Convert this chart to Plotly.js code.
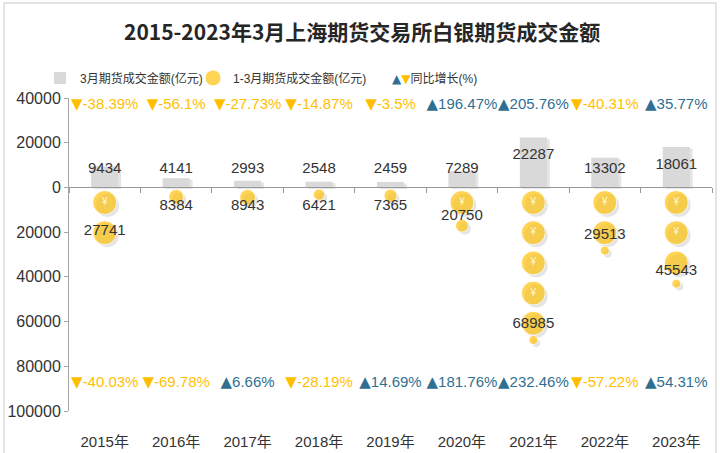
<!DOCTYPE html>
<html>
<head>
<meta charset="utf-8">
<script src="https://cdn.plot.ly/plotly-3.0.1.min.js"></script>
<style>html,body{margin:0;padding:0;background:#fff;}#chart{width:720px;height:453px;}</style>
</head>
<body>
<div id="chart"></div>
<script>
const years = ['2015年','2016年','2017年','2018年','2019年','2020年','2021年','2022年','2023年'];
const monthly = [9434, 4141, 2993, 2548, 2459, 7289, 22287, 13302, 18061];
const cumulative = [27741, 8384, 8943, 6421, 7365, 20750, 68985, 29513, 45543];
const monthlyYoY = [-38.39, -56.1, -27.73, -14.87, -3.5, 196.47, 205.76, -40.31, 35.77];
const cumulativeYoY = [-40.03, -69.78, 6.66, -28.19, 14.69, 181.76, 232.46, -57.22, 54.31];
const yTickVals = [40000, 20000, 0, -20000, -40000, -60000, -80000, -100000];
const yTickText = ['40000', '20000', '0', '20000', '40000', '60000', '80000', '100000'];

const UP = '#2f6f91', DOWN = '#ffbf00', YEL = '#ffc20e', TXT = '#333333';
const FONT = 'Liberation Sans, Arial, Noto Sans CJK SC, sans-serif';
const TRI = 'DejaVu Sans';
const xs = years.map((_, i) => i);
const STEP = 13500, TOP_ROW = 36600, BOTTOM_ROW = -87400;

const lbl = v => Math.max(8300, v - 8000);

// pictorial icons for cumulative values
const ix = [], iy = [], isz = [], itx = [];
cumulative.forEach((v, i) => {
  const n = Math.floor(v / STEP);
  const labelY = -lbl(v);
  for (let k = 0; k < n; k++) {
    const y = -(k + 0.5) * STEP;
    ix.push(i); iy.push(y); isz.push(24);
    itx.push(Math.abs(y - labelY) < 6000 ? '' : '¥');
  }
  const r = v - n * STEP;
  if (r > 0.08 * STEP) { ix.push(i); iy.push(-(n * STEP + r / 2)); isz.push(Math.max(9, 24 * r / STEP)); itx.push(''); }
});

const tri = (ch) => '<span style="font-family:' + TRI + '">' + ch + '</span>';
const fmt = v => tri(v >= 0 ? '▲' : '▼') + v + '%';

const traces = [
  { type: 'bar', x: xs.map(x => x + 0.04), y: monthly, base: -700, width: 0.38,
    marker: { color: 'rgba(0,0,0,0.10)' }, hoverinfo: 'skip', showlegend: false },
  { type: 'bar', x: xs, y: monthly, width: 0.38, name: '3月期货成交金额(亿元)',
    marker: { color: '#d9d9d9' }, legend: 'legend' },
  { type: 'scatter', mode: 'markers', x: ix.map(x => x + 0.04), y: iy.map(y => y - 1300),
    marker: { color: 'rgba(0,0,0,0.15)', size: isz, symbol: 'circle' }, hoverinfo: 'skip', showlegend: false },
  { type: 'scatter', mode: 'markers+text', x: ix, y: iy, text: itx, textposition: 'middle center',
    textfont: { color: '#fff7d0', size: 10, family: FONT },
    marker: { color: YEL, size: isz, symbol: 'circle' }, name: '1-3月期货成交金额(亿元)', legend: 'legend2' },
  { type: 'scatter', mode: 'text', x: xs, y: monthly.map(lbl), text: monthly.map(String),
    textfont: { color: TXT, size: 15, family: FONT }, hoverinfo: 'skip', showlegend: false },
  { type: 'scatter', mode: 'text', x: xs, y: cumulative.map(v => -lbl(v)), text: cumulative.map(String),
    textfont: { color: TXT, size: 15, family: FONT }, hoverinfo: 'skip', showlegend: false },
  { type: 'scatter', mode: 'text', x: xs, y: xs.map(() => TOP_ROW), text: monthlyYoY.map(fmt),
    textfont: { color: monthlyYoY.map(v => v >= 0 ? UP : DOWN), size: 15, family: FONT },
    hoverinfo: 'skip', showlegend: false },
  { type: 'scatter', mode: 'text', x: xs, y: xs.map(() => BOTTOM_ROW), text: cumulativeYoY.map(fmt),
    textfont: { color: cumulativeYoY.map(v => v >= 0 ? UP : DOWN), size: 15, family: FONT },
    hoverinfo: 'skip', showlegend: false },
  { type: 'scatter', mode: 'markers', x: [null], y: [null], xaxis: 'x2', legend: 'legend3',
    marker: { color: 'rgba(0,0,0,0)', symbol: 'square', size: 1 },
    name: '<span style="color:' + UP + ';font-family:' + TRI + '">▲</span><span style="color:' + DOWN + ';font-family:' + TRI + '">▼</span>同比增长(%)' }
];

const legFont = { size: 12, color: TXT, family: 'Liberation Sans, Noto Sans CJK SC, sans-serif' };
const legBase = { orientation: 'h', xanchor: 'left', y: 1.064, yanchor: 'middle', font: legFont,
  itemwidth: 30, bgcolor: 'rgba(0,0,0,0)' };

const layout = {
  width: 720, height: 453,
  margin: { l: 69, r: 8, t: 98, b: 42 },
  paper_bgcolor: '#ffffff', plot_bgcolor: '#ffffff',
  font: { family: FONT, color: TXT, size: 15 },
  barmode: 'overlay',
  title: { text: '<b>2015-2023年3月上海期货交易所白银期货成交金额</b>',
    font: { family: 'Noto Sans CJK SC, sans-serif', size: 21, color: '#262626' },
    x: 0.503, xanchor: 'center', y: 0.929, yanchor: 'middle' },
  showlegend: true,
  legend: Object.assign({}, legBase, { x: (40 - 69) / 643 }),
  legend2: Object.assign({}, legBase, { x: (193 - 69) / 643 }),
  legend3: Object.assign({}, legBase, { x: (352 - 69) / 643 }),
  xaxis: { type: 'linear', range: [-0.5, 8.5], tickvals: xs, ticktext: years,
    showgrid: false, zeroline: false, showline: false, ticks: '',
    ticklabelstandoff: 20, tickfont: { size: 15, color: TXT } },
  xaxis2: { type: 'linear', overlaying: 'x', anchor: 'free', position: 100000 / 140000,
    range: [-0.5, 8.5], tickvals: xs.map(x => x - 0.5).concat([8.5]), showticklabels: false,
    showgrid: false, zeroline: false, showline: true, linecolor: '#999999', linewidth: 1,
    ticks: 'outside', ticklen: 5, tickcolor: '#999999' },
  yaxis: { range: [-100000, 40000], tickvals: yTickVals, ticktext: yTickText,
    showgrid: false, zeroline: false, showline: true, linecolor: '#a6a6a6',
    ticks: 'outside', ticklen: 4, tickcolor: '#a6a6a6', tickfont: { size: 16, color: TXT } },
  shapes: [
    { type: 'rect', xref: 'paper', yref: 'paper', x0: (4 - 69) / 643, x1: (716 - 69) / 643,
      y0: -0.3, y1: (411 - 3) / 313, line: { color: '#c8c8c8', width: 1 }, fillcolor: 'rgba(0,0,0,0)' }
  ]
};

Plotly.newPlot('chart', traces, layout, { staticPlot: true, displayModeBar: false });
</script>
</body>
</html>
